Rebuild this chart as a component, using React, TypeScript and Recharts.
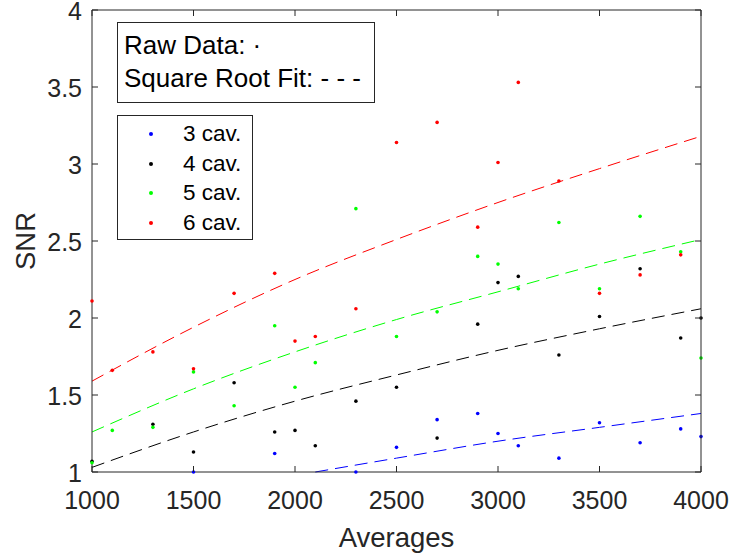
import { ComposedChart, Scatter, Line, XAxis, YAxis } from 'recharts'

// raw measurements (null = not visible / below the axis)
const averages = [1000, 1100, 1300, 1500, 1700, 1900, 2000, 2100, 2300, 2500, 2700, 2900, 3000, 3100, 3300, 3500, 3700, 3900, 4000]
const snr3 = [null, null, null, 1.0, null, 1.12, null, null, 1.0, 1.16, 1.34, 1.38, 1.25, 1.17, 1.09, 1.32, 1.19, 1.28, 1.23]
const snr4 = [1.07, null, 1.31, 1.13, 1.58, 1.26, 1.27, 1.17, 1.46, 1.55, 1.22, 1.96, 2.23, 2.27, 1.76, 2.01, 2.32, 1.87, 2.0]
const snr5 = [1.06, 1.27, 1.29, 1.65, 1.43, 1.95, 1.55, 1.71, 2.71, 1.88, 2.04, 2.4, 2.35, 2.19, 2.62, 2.19, 2.66, 2.43, 1.74]
const snr6 = [2.11, 1.66, 1.78, 1.67, 2.16, 2.29, 1.85, 1.88, 2.06, 3.14, 3.27, 2.59, 3.01, 3.53, 2.89, 2.16, 2.28, 2.41, null]

// square root fit curves
const fitAverages = [1000, 1500, 2000, 2500, 3000, 3500, 4000]
const fit3Averages = [2100, 2500, 3000, 3500, 4000]
const fit3 = [1.0, 1.09, 1.2, 1.29, 1.38]
const fit4 = [1.03, 1.26, 1.46, 1.63, 1.79, 1.93, 2.06]
const fit5 = [1.26, 1.54, 1.78, 1.99, 2.17, 2.35, 2.51]
const fit6 = [1.59, 1.94, 2.25, 2.51, 2.75, 2.97, 3.18]

const xTicks = [1000, 1500, 2000, 2500, 3000, 3500, 4000]
const yTicks = [1, 1.5, 2, 2.5, 3, 3.5, 4]
const seriesNames = ['3 cav.', '4 cav.', '5 cav.', '6 cav.']
const colors = ['#0000ff', '#000000', '#00ff00', '#ff0000']

const toPoints = (xs: number[], ys: (number | null)[]) =>
  xs.map((x, i) => ({ x, y: ys[i] })).filter((p) => p.y != null)

const series = [
  { raw: toPoints(averages, snr3), fit: toPoints(fit3Averages, fit3) },
  { raw: toPoints(averages, snr4), fit: toPoints(fitAverages, fit4) },
  { raw: toPoints(averages, snr5), fit: toPoints(fitAverages, fit5) },
  { raw: toPoints(averages, snr6), fit: toPoints(fitAverages, fit6) },
]

// layout
const W = 732
const H = 556
const margin = { top: 10, right: 31, left: 0, bottom: 0 }
const yAxisW = 92
const xAxisH = 84
const plotW = W - margin.left - margin.right - yAxisW
const plotH = H - margin.top - margin.bottom - xAxisH
const tickLen = 6

const axisColor = '#262626'
const font = '"Liberation Sans", Arial, Helvetica, sans-serif'

// MATLAB style box: ticks point inwards and repeat on the opposite edge
function XTick({ x, y, payload, index }: any) {
  return (
    <g>
      {index === 0 && <line x1={x} y1={y - plotH} x2={x + plotW} y2={y - plotH} stroke={axisColor} />}
      <line x1={x} y1={y} x2={x} y2={y - tickLen} stroke={axisColor} />
      <line x1={x} y1={y - plotH} x2={x} y2={y - plotH + tickLen} stroke={axisColor} />
      <text x={x} y={y + 37} textAnchor="middle" fill={axisColor} fontSize={25} fontFamily={font}>
        {payload.value}
      </text>
    </g>
  )
}

function YTick({ x, y, payload, index }: any) {
  return (
    <g>
      {index === 0 && <line x1={x + plotW} y1={y} x2={x + plotW} y2={y - plotH} stroke={axisColor} />}
      <line x1={x} y1={y} x2={x + tickLen} y2={y} stroke={axisColor} />
      <line x1={x + plotW} y1={y} x2={x + plotW - tickLen} y2={y} stroke={axisColor} />
      <text x={x - 10} y={y} dy="0.4em" textAnchor="end" fill={axisColor} fontSize={25} fontFamily={font}>
        {payload.value}
      </text>
    </g>
  )
}

export default function App() {
  return (
    <div style={{ position: 'absolute', left: 0, top: 0, width: W, height: H, background: '#fff', fontFamily: font }}>
      <ComposedChart width={W} height={H} margin={margin}>
        <XAxis
          dataKey="x"
          type="number"
          domain={[1000, 4000]}
          ticks={xTicks}
          interval={0}
          height={xAxisH}
          tickSize={0}
          tickMargin={0}
          tickLine={false}
          tick={<XTick />}
          stroke={axisColor}
          label={{ value: 'Averages', position: 'insideBottom', offset: 9, fill: axisColor, fontSize: 27.5, fontFamily: font }}
        />
        <YAxis
          type="number"
          domain={[1, 4]}
          ticks={yTicks}
          interval={0}
          width={yAxisW}
          tickSize={0}
          tickMargin={0}
          tickLine={false}
          tick={<YTick />}
          stroke={axisColor}
          label={{
            value: 'SNR', angle: -90, position: 'insideLeft', offset: 25,
            fill: axisColor, fontSize: 27.5, fontFamily: font, style: { textAnchor: 'middle' },
          }}
        />

        {series.map((s, i) => (
          <Scatter
            key={`raw-${i}`}
            name={seriesNames[i]}
            data={s.raw}
            dataKey="y"
            fill={colors[i]}
            isAnimationActive={false}
            shape={(p: any) => <circle cx={p.cx} cy={p.cy} r={1.8} fill={colors[i]} />}
          />
        ))}
        {series.map((s, i) => (
          <Line
            key={`fit-${i}`}
            data={s.fit}
            dataKey="y"
            type="monotone"
            stroke={colors[i]}
            strokeWidth={1}
            strokeDasharray="13 7"
            dot={false}
            activeDot={false}
            legendType="none"
            isAnimationActive={false}
          />
        ))}
      </ComposedChart>

      {/* annotation box */}
      <div style={{ position: 'absolute', left: 117, top: 22, width: 256, height: 79, border: '1px solid #262626', background: '#fff' }} />
      <div style={{ position: 'absolute', left: 124, top: 29, fontSize: 26, lineHeight: '33px', color: '#000', whiteSpace: 'nowrap' }}>
        Raw Data: ·
      </div>
      <div style={{ position: 'absolute', left: 124, top: 62, fontSize: 26, lineHeight: '33px', color: '#000', whiteSpace: 'nowrap' }}>
        Square Root Fit: - - -
      </div>

      {/* series legend */}
      <div style={{ position: 'absolute', left: 117, top: 115, width: 134, height: 123, border: '1px solid #262626', background: '#fff' }}>
        {seriesNames.map((name, i) => (
          <div key={name} style={{ position: 'absolute', left: 0, top: 3 + i * 29.7, height: 30, width: 134, lineHeight: '30px', fontSize: 22.5, color: '#000' }}>
            <span style={{ position: 'absolute', left: 31, top: 13, width: 4, height: 4, borderRadius: 2, background: colors[i] }} />
            <span style={{ position: 'absolute', left: 65, top: 0, whiteSpace: 'nowrap' }}>{name}</span>
          </div>
        ))}
      </div>
    </div>
  )
}
